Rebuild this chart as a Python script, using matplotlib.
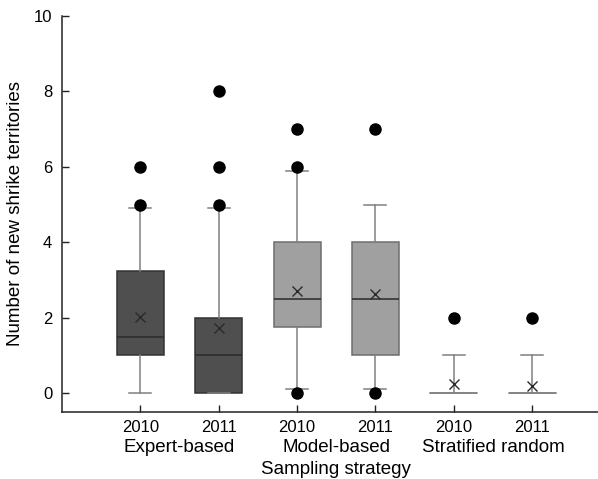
import matplotlib
matplotlib.use("Agg")
import matplotlib.pyplot as plt
import matplotlib.transforms as mtransforms

plt.rcParams['font.family'] = ['Liberation Sans', 'DejaVu Sans']

# box statistics
years = ["2010", "2011", "2010", "2011", "2010", "2011"]
groups = ["Expert-based", "Model-based", "Stratified random"]
q1 = [1.0, 0.0, 1.75, 1.0, 0.0, 0.0]
med = [1.5, 1.0, 2.5, 2.5, 0.0, 0.0]
q3 = [3.25, 2.0, 4.0, 4.0, 0.0, 0.0]
whislo = [0.0, 0.0, 0.1, 0.1, 0.0, 0.0]
whishi = [4.9, 4.9, 5.9, 5.0, 1.0, 1.0]
means = [2.02, 1.72, 2.71, 2.64, 0.23, 0.19]
fliers = [[5, 6], [5, 6, 8], [0, 6, 7], [0, 7], [2], [2]]
fills = ["#4f4f4f", "#4f4f4f", "#a0a0a0", "#a0a0a0", "#a0a0a0", "#a0a0a0"]
edges = ["#333333", "#333333", "#6e6e6e", "#6e6e6e", "#6e6e6e", "#6e6e6e"]

stats = []
for i in range(len(years)):
    stats.append({
        "q1": q1[i], "med": med[i], "q3": q3[i],
        "whislo": whislo[i], "whishi": whishi[i],
        "mean": means[i], "fliers": fliers[i],
    })

fig = plt.figure(figsize=(5.98, 4.79), dpi=100)
ax = fig.add_axes([0.1037, 0.1399, 0.8963, 0.8267])

pos = list(range(1, len(years) + 1))
bp = ax.bxp(stats, positions=pos, widths=0.6, showmeans=True, patch_artist=True,
            showcaps=True,
            whiskerprops=dict(color="#808080", linewidth=1.1),
            capprops=dict(color="#808080", linewidth=1.1),
            medianprops=dict(color="#2a2a2a", linewidth=1.1),
            meanprops=dict(marker="x", markeredgecolor="#2a2a2a", markersize=7,
                           markeredgewidth=1.0),
            flierprops=dict(marker="o", markerfacecolor="black", markeredgecolor="black",
                            markersize=8))
for i, (patch, fc, ec) in enumerate(zip(bp["boxes"], fills, edges)):
    patch.set_facecolor(fc)
    patch.set_edgecolor(ec)
    patch.set_linewidth(1.1)
    if q1[i] == q3[i]:
        # collapsed box: only the grey line at zero shows
        patch.set_visible(False)
        bp["medians"][i].set_color("#808080")
# caps: narrower than the box, except where the box collapses to zero
for i, cap in enumerate(bp["caps"]):
    b = i // 2
    half = 0.3 if (i % 2 == 0 and q1[b] == q3[b]) else 0.14
    cap.set_xdata([pos[b] - half, pos[b] + half])

ax.set_xlim(0, 6.84)
ax.set_ylim(-0.5, 10)
ax.set_yticks([0, 2, 4, 6, 8, 10])
ax.set_xticks(pos)
ax.set_xticklabels(years)
ax.tick_params(direction="in", length=5, width=1, colors="#222222", labelsize=12,
               labelcolor="black")
ax.tick_params(axis="x", pad=6)
ax.tick_params(axis="y", pad=7)
for s in ["top", "right"]:
    ax.spines[s].set_visible(False)
for s in ["left", "bottom"]:
    ax.spines[s].set_color("#222222")
    ax.spines[s].set_linewidth(1.1)
ax.spines["left"].set_bounds(-0.5, 10)

ax.set_ylabel("Number of new shrike territories", fontsize=13.5, labelpad=7)

trans = mtransforms.blended_transform_factory(ax.transData, fig.transFigure)
for k, g in enumerate(groups):
    ax.text(1.5 + 2 * k, 1 - 447 / 479, g, transform=trans, ha="center", va="center",
            fontsize=13.5)
ax.text(3.5, 1 - 470 / 479, "Sampling strategy", transform=trans, ha="center",
        va="center", fontsize=13.5)

fig.savefig("out.png", dpi=100)
